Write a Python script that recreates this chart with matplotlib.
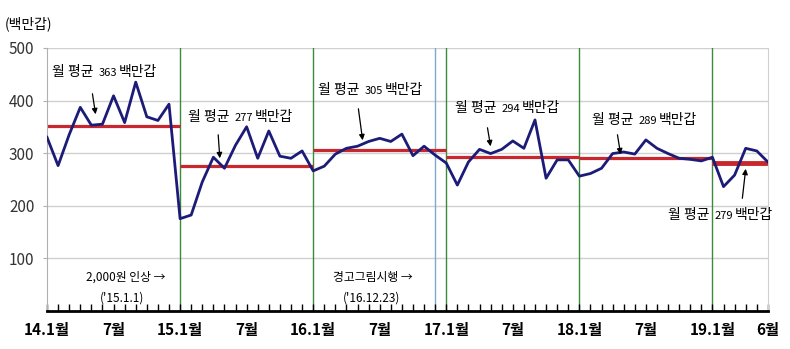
import matplotlib
matplotlib.use("Agg")
import matplotlib.pyplot as plt

plt.rcParams['font.family'] = ['Noto Sans CJK KR', 'DejaVu Sans']

# monthly sales (백만갑), 2014.1 - 2019.6
sales = [330, 276, 335, 387, 353, 355, 409, 358, 435, 369, 362, 393,
         175, 182, 245, 292, 271, 315, 350, 290, 342, 294, 290, 304,
         266, 275, 298, 309, 313, 322, 328, 322, 336, 295, 313, 296,
         281, 239, 283, 307, 299, 307, 323, 309, 363, 252, 287, 287,
         256, 261, 271, 299, 302, 298, 325, 309, 299, 290, 288, 285,
         292, 236, 258, 309, 304, 283]

# yearly average segments: (start month idx, end month idx, drawn level, label value)
avg_start = [0, 12, 24, 36, 48, 60]
avg_end = [12, 24, 36, 48, 60, 65]
avg_level = [352, 276, 305, 293, 290, 281]
avg_label = ['363', '277', '305', '294', '289', '279']

tick_pos = [0, 6, 12, 18, 24, 30, 36, 42, 48, 54, 60, 65]
tick_lbl = ['14.1월', '7월', '15.1월', '7월', '16.1월', '7월', '17.1월', '7월',
            '18.1월', '7월', '19.1월', '6월']

year_lines = [12, 24, 36, 48, 60]
policy_line = 35

fig = plt.figure(figsize=(7.9, 3.49), dpi=100)
ax = fig.add_axes([0.0595, 0.110, 0.9125, 0.7525])

ax.set_xlim(0, 65)
ax.set_ylim(0, 500)
ax.set_yticks([100, 200, 300, 400, 500])
for v in [100, 200, 300, 400, 500]:
    ax.axhline(v, color='#d0d0d0', lw=1.0, zorder=0)

for x in year_lines:
    ax.axvline(x, color='#3d8a3d', lw=1.0, zorder=1)
ax.axvline(policy_line, color='#7fa8d0', lw=1.0, zorder=1)

months = list(range(len(sales)))
ax.plot(months, sales, color='#1c1c78', lw=2.0, zorder=3)

for s, e, lv in zip(avg_start, avg_end, avg_level):
    lw = 3.5 if s == 60 else 2.3
    ax.plot([s, e], [lv, lv], color='#c8282d', lw=lw, zorder=2, solid_capstyle='butt')


def px2data(px, py):
    return (px - 47) / 11.09, (310.5 - py) / 0.525


txt_px = [(52, 72), (188, 117), (318, 90), (455, 108), (592, 120), (668, 215)]
arr_px = [((92, 91), (96, 117)), ((218, 132), (220, 161)), ((358, 106), (363, 143)),
          ((487, 125), (491, 149)), ((617, 132), (621, 157)), ((742, 201), (746, 166))]

PT = 0.72  # points per pixel at 100 dpi
for (tx, ty), ((ax0, ay0), (ax1, ay1)), lab in zip(txt_px, arr_px, avg_label):
    dx, dy = px2data(tx, ty)
    ax.text(dx, dy, '월 평균', fontsize=10, ha='left', va='center', zorder=5)
    ax.annotate(lab, xy=(dx, dy), xytext=(47 * PT, -1 * PT), textcoords='offset points',
                fontsize=8, ha='left', va='center', zorder=5)
    ax.annotate('백만갑', xy=(dx, dy), xytext=(67 * PT, 0), textcoords='offset points',
                fontsize=10, ha='left', va='center', zorder=5)
    hx, hy = px2data(ax1, ay1)
    sx, sy = px2data(ax0, ay0)
    ax.annotate('', xy=(hx, hy), xytext=(sx, sy),
                arrowprops=dict(arrowstyle='-|>', color='black', lw=0.9,
                                mutation_scale=8), zorder=6)

x1, y1 = px2data(126, 277)
ax.text(x1, y1, '2,000원 인상 →', fontsize=8.5, ha='center', va='center')
x2, y2 = px2data(122, 298)
ax.text(x2, y2, "('15.1.1)", fontsize=8.5, ha='center', va='center')
x3, y3 = px2data(373, 277)
ax.text(x3, y3, '경고그림시행 →', fontsize=8.5, ha='center', va='center')
x4, y4 = px2data(372, 298)
ax.text(x4, y4, "('16.12.23)", fontsize=8.5, ha='center', va='center')

fig.text(5 / 790, 1 - 24 / 349, '(백만갑)', fontsize=10, ha='left', va='center')

# axes styling
ax.spines['top'].set_visible(False)
ax.spines['right'].set_color('#d0d0d0')
ax.spines['left'].set_color('#b0b0b0')
ax.spines['bottom'].set_linewidth(2.0)
ax.spines['bottom'].set_color('black')

ax.set_xticks(list(range(66)), minor=True)
ax.tick_params(axis='x', which='minor', direction='in', length=5, width=1.0, color='black')
ax.set_xticks(tick_pos)
ax.set_xticklabels(tick_lbl, fontsize=11, fontweight='bold')
ax.tick_params(axis='x', which='major', direction='in', length=5, width=1.0, pad=8)
ax.tick_params(axis='y', which='major', direction='out', length=3, color='#b0b0b0',
               labelsize=11, pad=6)
for lbl in ax.get_yticklabels():
    lbl.set_color('#333333')

fig.savefig('out.png', dpi=100)
